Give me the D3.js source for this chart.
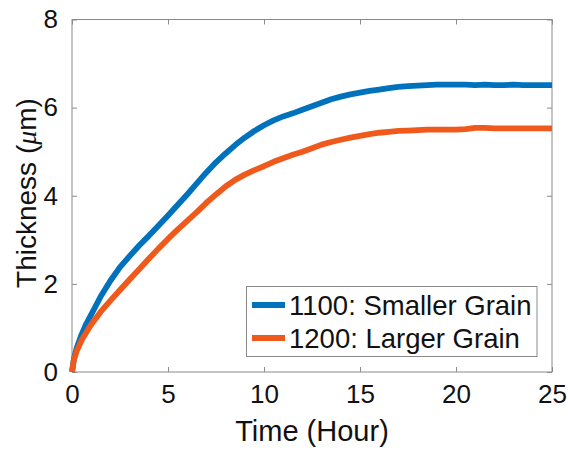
<!DOCTYPE html>
<html>
<head>
<meta charset="utf-8">
<script src="https://cdn.jsdelivr.net/npm/d3@7"></script>
<style>
  html, body { margin: 0; padding: 0; background: #fff; }
  svg { display: block; }
  text { font-family: "Liberation Sans", Arial, Helvetica, sans-serif; }
</style>
</head>
<body>
<svg id="chart" width="568" height="452"></svg>
<script>
// ---- data ----
const times = [0, 0.1, 0.25, 0.5, 0.75, 1, 1.5, 2, 2.5, 3, 3.5, 4, 4.5, 5, 5.5, 6, 6.5, 7, 7.5, 8, 8.5, 9, 9.5, 10,
  10.5, 11, 11.5, 12, 12.5, 13, 13.5, 14, 14.5, 15, 15.5, 16, 16.5, 17, 17.5, 18, 18.5, 19, 19.5, 20,
  20.5, 21, 21.5, 22, 22.5, 23, 23.5, 24, 24.5, 25];
const smallerGrain = [0, 0.3, 0.55, 0.85, 1.1, 1.3, 1.72, 2.07, 2.38, 2.63, 2.87, 3.09, 3.32, 3.55, 3.79, 4.03, 4.28, 4.53, 4.76, 4.96, 5.15, 5.32, 5.47, 5.6,
  5.71, 5.8, 5.87, 5.95, 6.03, 6.11, 6.19, 6.25, 6.3, 6.34, 6.38, 6.41, 6.44, 6.47, 6.49, 6.5, 6.51, 6.52, 6.52, 6.52,
  6.52, 6.51, 6.52, 6.51, 6.51, 6.52, 6.51, 6.51, 6.51, 6.51];
const largerGrain = [0, 0.28, 0.48, 0.72, 0.9, 1.08, 1.37, 1.62, 1.86, 2.1, 2.33, 2.57, 2.8, 3.02, 3.23, 3.43, 3.63, 3.84, 4.03, 4.21, 4.36, 4.48, 4.58, 4.67,
  4.77, 4.85, 4.93, 5.0, 5.08, 5.16, 5.22, 5.27, 5.32, 5.36, 5.4, 5.43, 5.45, 5.47, 5.48, 5.49, 5.5, 5.5, 5.5, 5.5,
  5.51, 5.54, 5.54, 5.53, 5.53, 5.53, 5.53, 5.53, 5.53, 5.53];
const seriesNames = ["1100: Smaller Grain", "1200: Larger Grain"];
const seriesColors = ["#0072BD", "#EF5A1C"];
const xTicks = [0, 5, 10, 15, 20, 25];
const yTicks = [0, 2, 4, 6, 8];

// ---- layout ----
const L = 72, R = 552, T = 19.5, B = 372;
const svg = d3.select("#chart");
const x = d3.scaleLinear().domain([0, 25]).range([L, R]);
const y = d3.scaleLinear().domain([0, 8]).range([B, T]);
const axisColor = "#8a8a8a";

// axes box
svg.append("rect").attr("x", L).attr("y", T).attr("width", R - L).attr("height", B - T)
  .attr("fill", "none").attr("stroke", axisColor).attr("stroke-width", 1);

function styleAxis(g) {
  g.select(".domain").remove();
  g.selectAll(".tick line").attr("stroke", axisColor);
  g.selectAll(".tick text").attr("fill", "#111").style("font-size", "26px")
    .style("font-family", '"Liberation Sans", Arial, sans-serif');
}
// bottom
svg.append("g").attr("transform", `translate(0,${B})`)
  .call(d3.axisBottom(x).tickValues(xTicks).tickSize(-5).tickPadding(13).tickFormat(d3.format("d")))
  .call(styleAxis);
// top (ticks only)
svg.append("g").attr("transform", `translate(0,${T})`)
  .call(d3.axisTop(x).tickValues(xTicks).tickSize(-5).tickFormat(""))
  .call(styleAxis);
// left
svg.append("g").attr("transform", `translate(${L},0)`)
  .call(d3.axisLeft(y).tickValues(yTicks).tickSize(-5).tickPadding(14).tickFormat(d3.format("d")))
  .call(styleAxis);
// right (ticks only)
svg.append("g").attr("transform", `translate(${R},0)`)
  .call(d3.axisRight(y).tickValues(yTicks).tickSize(-5).tickFormat(""))
  .call(styleAxis);

// lines
const allSeries = [smallerGrain, largerGrain];
const line = d3.line().x((d, i) => x(times[i])).y(d => y(d));
allSeries.forEach((vals, k) => {
  svg.append("path").datum(vals).attr("d", line)
    .attr("fill", "none").attr("stroke", seriesColors[k]).attr("stroke-width", 5.8)
    .attr("stroke-linejoin", "round").attr("stroke-linecap", "butt");
});

// axis labels
svg.append("text").attr("x", (L + R) / 2).attr("y", 441).attr("text-anchor", "middle")
  .style("font-size", "29px").attr("fill", "#111").text("Time (Hour)");
const yl = svg.append("text").attr("transform", "translate(36,193) rotate(-90)")
  .attr("text-anchor", "middle").style("font-size", "28px").attr("fill", "#111");
yl.append("tspan").text("Thickness (");
yl.append("tspan").style("font-style", "italic").style("font-family", '"Liberation Serif", "DejaVu Serif", serif').text("μ");
yl.append("tspan").text("m)");

// legend
const lg = svg.append("g");
lg.append("rect").attr("x", 246.5).attr("y", 286.5).attr("width", 290.5).attr("height", 70)
  .attr("fill", "#fff").attr("stroke", axisColor).attr("stroke-width", 1);
const legY = [305, 338];
seriesNames.forEach((name, k) => {
  lg.append("line").attr("x1", 252).attr("x2", 285).attr("y1", legY[k]).attr("y2", legY[k])
    .attr("stroke", seriesColors[k]).attr("stroke-width", 5.8);
  lg.append("text").attr("x", 289).attr("y", legY[k] + 10).style("font-size", "27.5px")
    .attr("fill", "#111").text(name);
});
</script>
</body>
</html>
